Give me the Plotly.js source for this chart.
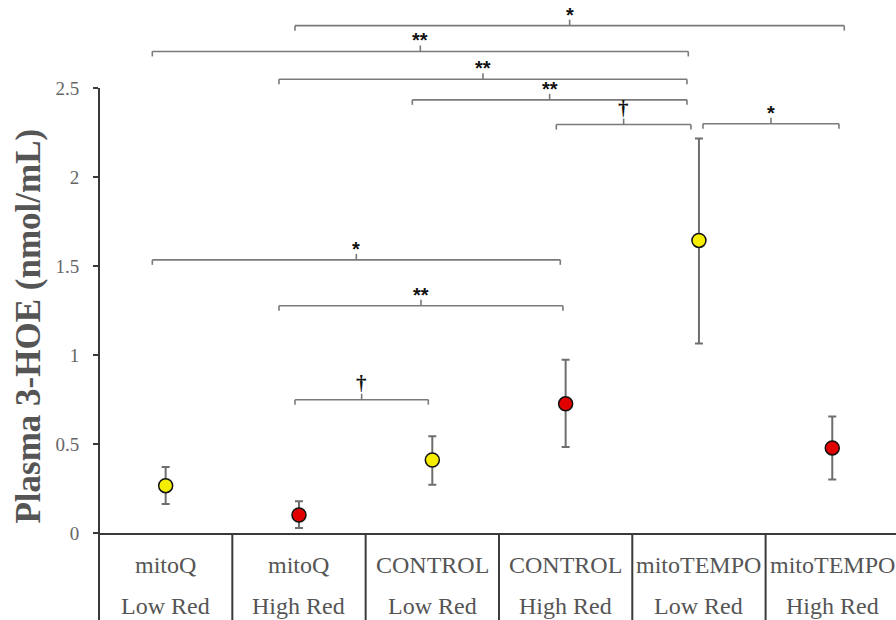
<!DOCTYPE html>
<html>
<head>
<meta charset="utf-8">
<script src="https://cdn.plot.ly/plotly-3.0.1.min.js"></script>
<style>html,body{margin:0;padding:0;background:#fff;}#chart{width:896px;height:620px;}</style>
</head>
<body>
<div id="chart"></div>
<script>
// ---- data ----
const treatments = ["mitoQ", "mitoQ", "CONTROL", "CONTROL", "mitoTEMPO", "mitoTEMPO"];
const redLevels = ["Low Red", "High Red", "Low Red", "High Red", "Low Red", "High Red"];
const means = [0.266, 0.101, 0.410, 0.726, 1.644, 0.478];
const errUpper = [0.371, 0.178, 0.543, 0.974, 2.217, 0.655];
const errLower = [0.163, 0.028, 0.271, 0.483, 1.065, 0.300];
const pointColors = ["#f5ee00", "#e00000", "#f5ee00", "#e00000", "#f5ee00", "#e00000"];

// significance brackets: start / end (category index units), level (nmol/mL), label
const bracketStart = [0.97, -0.10, 0.85, 1.85, 2.93, 4.03, -0.10, 0.85, 0.97];
const bracketEnd   = [5.09, 3.92, 3.91, 3.91, 3.94, 5.05, 2.96, 2.98, 1.97];
const bracketLevel = [2.851, 2.706, 2.550, 2.434, 2.295, 2.300, 1.535, 1.277, 0.749];
const bracketLabel = ["*", "**", "**", "**", "\u2020", "*", "*", "**", "\u2020"];

const yTicks = [0, 0.5, 1, 1.5, 2, 2.5];
const yTickText = ["0", "0.5", "1", "1.5", "2", "2.5"];

// ---- layout constants ----
const W = 896, H = 620;
const M = {l: 99, r: 0, t: 0, b: 87};
const yRange = [0, 2.995];
const xRange = [-0.5, 5.478];
const plotH = H - M.t - M.b;
const pxPerY = plotH / (yRange[1] - yRange[0]);
const tickUp = 6 / pxPerY, tickDown = 5 / pxPerY;

const xs = means.map((_, i) => i);

const trace = {
  type: "scatter",
  mode: "markers",
  x: xs,
  y: means,
  marker: {size: 14, color: pointColors, line: {color: "#111", width: 1.5}},
  error_y: {
    type: "data", symmetric: false,
    array: errUpper.map((u, i) => u - means[i]),
    arrayminus: errLower.map((l, i) => means[i] - l),
    color: "#6e6e6e", thickness: 2, width: 4
  },
  hoverinfo: "skip",
  showlegend: false
};

const shapes = [];
const annotations = [];
const bracketColor = "#7a7a7a";

bracketStart.forEach((x0, i) => {
  const x1 = bracketEnd[i], y = bracketLevel[i], xm = (x0 + x1) / 2;
  const ln = {color: bracketColor, width: 1.6};
  shapes.push({type: "line", xref: "x", yref: "y", x0: x0, x1: x1, y0: y, y1: y, line: ln, layer: "above"});
  shapes.push({type: "line", xref: "x", yref: "y", x0: x0, x1: x0, y0: y, y1: y - tickDown, line: ln, layer: "above"});
  shapes.push({type: "line", xref: "x", yref: "y", x0: x1, x1: x1, y0: y, y1: y - tickDown, line: ln, layer: "above"});
  shapes.push({type: "line", xref: "x", yref: "y", x0: xm, x1: xm, y0: y, y1: y + tickUp, line: ln, layer: "above"});
  const isDagger = bracketLabel[i] === "\u2020";
  annotations.push({
    x: xm, y: y, xref: "x", yref: "y", text: "<b>" + bracketLabel[i] + "</b>",
    showarrow: false, yanchor: "bottom", yshift: isDagger ? 3 : -2,
    font: {family: isDagger ? "Liberation Serif" : "Liberation Sans", size: isDagger ? 21 : 20, color: "#111"}
  });
});

// table separators between categories below the axis
for (let k = 0; k < treatments.length - 1; k++) {
  shapes.push({type: "line", xref: "x", yref: "paper", x0: k + 0.5, x1: k + 0.5, y0: 0, y1: -M.b / plotH,
    line: {color: "#3a3a3a", width: 2}, layer: "above"});
}
// y axis line (only up to 2.5) and its extension as table left border
shapes.push({type: "line", xref: "paper", yref: "y", x0: 0, x1: 0, y0: 0, y1: 2.5, line: {color: "#3a3a3a", width: 2}});
shapes.push({type: "line", xref: "paper", yref: "paper", x0: 0, x1: 0, y0: 0, y1: -M.b / plotH, line: {color: "#3a3a3a", width: 2}});

// category labels in two rows
treatments.forEach((t, i) => {
  annotations.push({x: i, y: -32 / plotH, xref: "x", yref: "paper", text: t, showarrow: false,
    yanchor: "middle", font: {family: "Liberation Serif", size: 24, color: "#555"}});
  annotations.push({x: i, y: -73 / plotH, xref: "x", yref: "paper", text: redLevels[i], showarrow: false,
    yanchor: "middle", font: {family: "Liberation Serif", size: 24, color: "#555"}});
});

// y title
annotations.push({x: -70 / (W - M.l - M.r), y: 1.16, xref: "paper", yref: "y",
  text: "<b>Plasma 3-HOE (nmol/mL)</b>", textangle: -90, showarrow: false,
  xanchor: "center", yanchor: "middle",
  font: {family: "Liberation Serif", size: 35, color: "#555"}});

const layout = {
  width: W, height: H,
  margin: M,
  paper_bgcolor: "#fff", plot_bgcolor: "#fff",
  xaxis: {range: xRange, showgrid: false, zeroline: false, showticklabels: false,
    showline: true, linecolor: "#3a3a3a", linewidth: 2, ticks: "", fixedrange: true},
  yaxis: {range: yRange, showgrid: false, zeroline: false, showline: false,
    tickvals: yTicks, ticktext: yTickText, ticks: "outside", ticklen: 5, tickwidth: 1.5,
    tickcolor: "#3a3a3a", ticklabelstandoff: 10,
    tickfont: {family: "Liberation Serif", size: 19, color: "#666"}, fixedrange: true},
  shapes: shapes,
  annotations: annotations
};

Plotly.newPlot("chart", [trace], layout, {displayModeBar: false, staticPlot: true});
</script>
</body>
</html>
